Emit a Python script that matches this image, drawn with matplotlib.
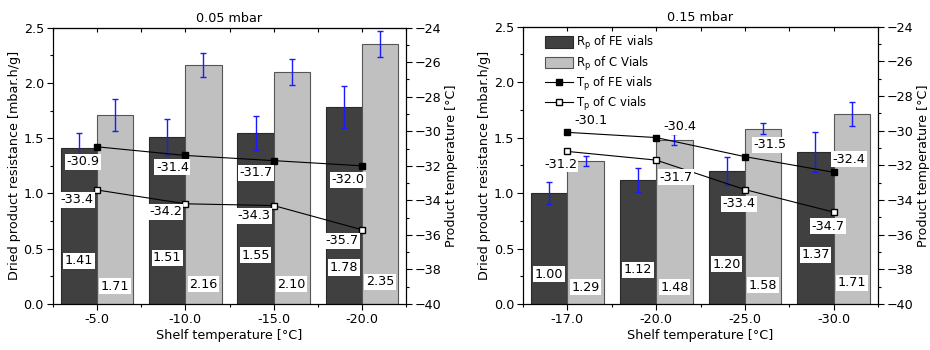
import matplotlib
matplotlib.use("Agg")
import matplotlib.pyplot as plt
import numpy as np
from matplotlib.lines import Line2D
from matplotlib.patches import Patch
from matplotlib.ticker import MultipleLocator

plt.rcParams['font.family'] = ['DejaVu Sans']
plt.rcParams['font.size'] = 9.2
plt.rcParams['mathtext.fontset'] = 'dejavusans'

# ---- data ----
titles = ["0.05 mbar", "0.15 mbar"]
shelf_labels_a = ["-5.0", "-10.0", "-15.0", "-20.0"]
shelf_labels_b = ["-17.0", "-20.0", "-25.0", "-30.0"]

rp_fe_a = [1.41, 1.51, 1.55, 1.78]
rp_c_a = [1.71, 2.16, 2.10, 2.35]
err_fe_a = [0.14, 0.16, 0.155, 0.19]
err_c_a = [0.145, 0.11, 0.115, 0.12]
tp_fe_a = [-30.9, -31.4, -31.7, -32.0]
tp_c_a = [-33.4, -34.2, -34.3, -35.7]

rp_fe_b = [1.00, 1.12, 1.20, 1.37]
rp_c_b = [1.29, 1.48, 1.58, 1.71]
err_fe_b = [0.10, 0.11, 0.125, 0.18]
err_c_b = [0.045, 0.05, 0.05, 0.11]
tp_fe_b = [-30.1, -30.4, -31.5, -32.4]
tp_c_b = [-31.2, -31.7, -33.4, -34.7]

# ---- layout (label placement only) ----
lab_y_fe = [[0.39, 0.42, 0.44, 0.33], [0.27, 0.31, 0.36, 0.445]]
lab_y_c = [[0.16, 0.18, 0.18, 0.20], [0.15, 0.15, 0.17, 0.19]]
off_fe = [[(-14, -15), (-13, -12), (-18, -12), (-14, -14)],
          [(24, 12), (24, 11), (25, 12), (15, 13)]]
off_c = [[(-20, -10), (-20, -8), (-20, -10), (-20, -11)],
         [(-7, -13), (20, -17), (-6, -14), (-6, -14)]]

DARK = '#404040'
LIGHT = '#c0c0c0'
EDGE = '#2a2a2a'
BLUE = '#1a1aff'

fig = plt.figure(figsize=(9.3, 3.5), dpi=100)
axes_pos = [[0.057, 0.1314, 0.3796, 0.7897], [0.5624, 0.1314, 0.3817, 0.7926]]

panels = [
    (shelf_labels_a, rp_fe_a, rp_c_a, err_fe_a, err_c_a, tp_fe_a, tp_c_a),
    (shelf_labels_b, rp_fe_b, rp_c_b, err_fe_b, err_c_b, tp_fe_b, tp_c_b),
]

bbox = dict(boxstyle='square,pad=0.12', fc='white', ec='none')
w = 0.41
for i, (labels, fe, c, efe, ec, tfe, tc) in enumerate(panels):
    ax = fig.add_axes(axes_pos[i])
    x = np.arange(len(labels))
    ax.bar(x - w / 2, fe, w, color=DARK, edgecolor=EDGE, linewidth=0.8, zorder=2)
    ax.bar(x + w / 2, c, w, color=LIGHT, edgecolor='#555555', linewidth=0.8, zorder=2)
    ax.errorbar(x - w / 2, fe, yerr=efe, fmt='none', ecolor=BLUE, elinewidth=1,
                capsize=2.5, capthick=1, zorder=3)
    ax.errorbar(x + w / 2, c, yerr=ec, fmt='none', ecolor=BLUE, elinewidth=1,
                capsize=2.5, capthick=1, zorder=3)
    for j in range(len(x)):
        ax.text(x[j] - w / 2, lab_y_fe[i][j], f"{fe[j]:.2f}", ha='center', va='center',
                bbox=bbox, zorder=5)
        ax.text(x[j] + w / 2, lab_y_c[i][j], f"{c[j]:.2f}", ha='center', va='center',
                bbox=bbox, zorder=5)
    ax.set_xlim(-0.5, len(x) - 0.5)
    ax.set_ylim(0, 2.5)
    ax.set_xticks(x)
    ax.set_xticklabels(labels)
    ax.set_xticks(np.arange(-0.5, len(x), 1.0), minor=True)
    ax.yaxis.set_major_locator(MultipleLocator(0.5))
    ax.yaxis.set_minor_locator(MultipleLocator(0.25))
    ax.yaxis.set_major_formatter(matplotlib.ticker.FormatStrFormatter('%.1f'))
    ax.tick_params(which='major', direction='out', length=4, width=0.8, pad=2.5)
    ax.tick_params(which='minor', direction='out', length=2.5, width=0.8)
    ax.set_xlabel("Shelf temperature [°C]", labelpad=2)
    ax.set_ylabel("Dried product resistance [mbar.h/g]", labelpad=2)
    ax.set_title(titles[i], pad=4, fontsize=9.2)
    top = ax.secondary_xaxis('top')
    top.set_xticks(x)
    top.set_xticks(np.arange(-0.5, len(x), 1.0), minor=True)
    top.tick_params(which='both', direction='in', labeltop=False, length=3, width=0.8)

    ax2 = ax.twinx()
    ax2.set_ylim(-40, -24)
    ax2.yaxis.set_major_locator(MultipleLocator(2))
    ax2.yaxis.set_minor_locator(MultipleLocator(1))
    ax2.tick_params(which='major', direction='out', length=4, width=0.8, pad=2.5)
    ax2.tick_params(which='minor', direction='out', length=2.5, width=0.8)
    ax2.set_ylabel("Product temperature [°C]", labelpad=2)
    ax2.plot(x, tfe, color='black', lw=0.8, marker='s', ms=5, mfc='black', mec='black',
             zorder=4)
    ax2.plot(x, tc, color='black', lw=0.8, marker='s', ms=5, mfc='white', mec='black',
             zorder=4)
    for j in range(len(x)):
        ax2.annotate(f"{tfe[j]:.1f}", (x[j], tfe[j]), xytext=off_fe[i][j],
                     textcoords='offset pixels', ha='center', va='center', bbox=bbox,
                     zorder=6)
        ax2.annotate(f"{tc[j]:.1f}", (x[j], tc[j]), xytext=off_c[i][j],
                     textcoords='offset pixels', ha='center', va='center', bbox=bbox,
                     zorder=6)
    for a in (ax, ax2):
        for s in a.spines.values():
            s.set_linewidth(0.8)

    if i == 1:
        handles = [
            Patch(facecolor=DARK, edgecolor=EDGE, linewidth=0.8),
            Patch(facecolor=LIGHT, edgecolor='#555555', linewidth=0.8),
            Line2D([], [], color='black', lw=0.8, marker='s', ms=4, mfc='black'),
            Line2D([], [], color='black', lw=0.8, marker='s', ms=4, mfc='white', mec='black'),
        ]
        names = [r"R$_\mathrm{p}$ of FE vials", r"R$_\mathrm{p}$ of C Vials",
                 r"T$_\mathrm{p}$ of FE vials", r"T$_\mathrm{p}$ of C vials"]
        ax2.legend(handles, names, loc='upper left', frameon=False, fontsize=8.4,
                   bbox_to_anchor=(0.04, 1.0), handlelength=2.4, handleheight=1.2,
                   labelspacing=0.2, handletextpad=0.3, borderaxespad=0.25)

fig.savefig("out.png", dpi=100)
